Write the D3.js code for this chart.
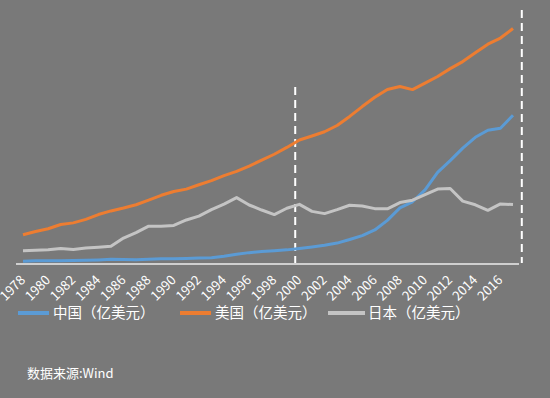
<!DOCTYPE html>
<html lang="zh">
<head>
<meta charset="UTF-8">
<title>中美日GDP</title>
<style>
  html, body { margin: 0; padding: 0; background: #797979; }
  svg { display: block; }
  text { font-family: "Noto Sans CJK SC", "Noto Sans", sans-serif; fill: #ffffff; }
</style>
<script src="https://d3js.org/d3.v7.min.js"></script>
</head>
<body>
<div id="chart"></div>
<script>
// years on the category axis
const years = d3.range(1978, 2018);
const tickYears = years.filter(y => (y - 1978) % 2 === 0);

// GDP, 亿美元
const china = [1495, 1783, 1911, 1958, 2051, 2303, 2599, 3094, 3008, 2729,
  3123, 3478, 3609, 3834, 4269, 4447, 5643, 7343, 8637, 9615,
  10290, 10940, 12110, 13390, 14710, 16600, 19550, 22860, 27520, 35500,
  45940, 51020, 60870, 75520, 85320, 95700, 104760, 110620, 112330, 123100];
const usa = [23520, 26270, 28570, 32070, 33430, 36340, 40370, 43390, 45790, 48550,
  52360, 56420, 59630, 61580, 65200, 68590, 72870, 76400, 80730, 85780,
  90630, 96310, 102520, 105820, 109360, 114580, 122140, 130370, 138150, 144520,
  147130, 144490, 149920, 155430, 161970, 167850, 175270, 182380, 187450, 195430];
const japan = [10130, 10550, 11050, 12180, 11340, 12440, 13180, 13990, 20790, 25320,
  30720, 30540, 31330, 35840, 39090, 44540, 49070, 54490, 48340, 44150,
  40330, 45620, 48880, 43040, 41150, 44450, 48150, 47550, 45300, 45150,
  50380, 52310, 57000, 61570, 62030, 51560, 48500, 43890, 49230, 48670];

const seriesNames = ["中国（亿美元）", "美国（亿美元）", "日本（亿美元）"];
const seriesColors = ["#5b9bd5", "#ed7d31", "#c4c4c4"];
const sourceText = "数据来源:Wind";

const width = 550, height = 398;

const svg = d3.select("#chart").append("svg")
  .attr("width", width)
  .attr("height", height);

svg.append("rect").attr("width", width).attr("height", height).attr("fill", "#797979");

const x = d3.scalePoint().domain(years).range([23, 513]);
const y = d3.scaleLinear().domain([0, 200000]).range([263, 23]);
const step = x.step();

// category axis
const xAxis = svg.append("g")
  .attr("transform", "translate(0,264)");
xAxis.append("line")
  .attr("x1", 16).attr("x2", 519)
  .attr("stroke", "#cfcfcf").attr("stroke-width", 2);
xAxis.selectAll("text.tick")
  .data(tickYears)
  .enter().append("text")
  .attr("class", "tick")
  .attr("text-anchor", "end")
  .attr("font-size", "13px")
  .attr("transform", d => `translate(${x(d) + 3},${17}) rotate(-45)`)
  .text(d => d);

// dashed markers
const marks = [
  { xp: x(2000) - step / 3, top: 87 },
  { xp: x(2017) + step * 0.7, top: 10 }
];
svg.selectAll("line.mark")
  .data(marks)
  .enter().append("line")
  .attr("class", "mark")
  .attr("x1", d => d.xp).attr("x2", d => d.xp)
  .attr("y1", d => d.top).attr("y2", 263)
  .attr("stroke", "#ffffff")
  .attr("stroke-width", 2)
  .attr("stroke-dasharray", "8,5");

// lines
const line = d3.line()
  .x((d, i) => x(years[i]))
  .y(d => y(d));

[china, usa, japan].forEach((s, i) => {
  svg.append("path")
    .datum(s)
    .attr("fill", "none")
    .attr("stroke", seriesColors[i])
    .attr("stroke-width", 3)
    .attr("stroke-linejoin", "round")
    .attr("d", line);
});

// legend
const legendX = [18, 180, 328];
const legend = svg.selectAll("g.legend")
  .data(seriesNames)
  .enter().append("g")
  .attr("class", "legend")
  .attr("transform", (d, i) => `translate(${legendX[i]},313)`);
legend.append("line")
  .attr("x1", 0).attr("x2", (d, i) => i === 2 ? 37 : 31)
  .attr("stroke", (d, i) => seriesColors[i])
  .attr("stroke-width", 4);
legend.append("text")
  .attr("x", (d, i) => i === 2 ? 40 : 35)
  .attr("y", 5)
  .attr("font-size", "14.5px")
  .text(d => d);

svg.append("text")
  .attr("x", 27)
  .attr("y", 378)
  .attr("font-size", "13px")
  .text(sourceText);
</script>
</body>
</html>
